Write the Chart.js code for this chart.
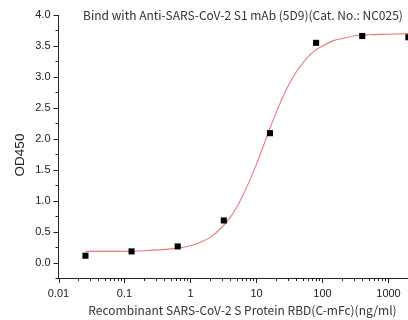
<!DOCTYPE html>
<html>
<head>
<meta charset="utf-8">
<script src="https://cdn.jsdelivr.net/npm/chart.js@4/dist/chart.umd.min.js"></script>
<style>
  html, body { margin: 0; padding: 0; background: #fff; }
  #wrap { width: 408px; height: 320px; position: relative; }
</style>
</head>
<body>
<div id="wrap"><canvas id="c" width="408" height="320"></canvas></div>
<script>
// ---- Data ----
const chartTitle = 'Bind with Anti-SARS-CoV-2 S1 mAb (5D9)(Cat. No.: NC025)';
const xAxisTitle = 'Recombinant SARS-CoV-2 S Protein RBD(C-mFc)(ng/ml)';
const yAxisTitle = 'OD450';

// measured points (concentration ng/ml, OD450)
const concentrations = [0.0256, 0.128, 0.64, 3.2, 16, 80, 400, 2000];
const od450 = [0.11, 0.18, 0.26, 0.68, 2.09, 3.55, 3.66, 3.64];

// fitted curve
const curveX = [0.0256, 0.05, 0.1, 0.2, 0.5, 1, 1.5, 2, 3, 4, 5, 6, 8, 10, 12, 15, 20, 25, 30, 40, 50, 60, 80, 100, 150, 200, 300, 500, 1000, 2000];
const curveY = [0.18, 0.18, 0.18, 0.19, 0.22, 0.27, 0.34, 0.41, 0.57, 0.73, 0.89, 1.05, 1.34, 1.59, 1.81, 2.09, 2.43, 2.67, 2.85, 3.08, 3.22, 3.32, 3.44, 3.50, 3.59, 3.62, 3.66, 3.68, 3.69, 3.70];

// axis ticks
const xMajorTicks = [0.01, 0.1, 1, 10, 100, 1000];
const yMajorTicks = [0.0, 0.5, 1.0, 1.5, 2.0, 2.5, 3.0, 3.5, 4.0];
const yMinorStep = 0.25;

const pointData = concentrations.map((x, i) => ({ x: x, y: od450[i] }));
const curveData = curveX.map((x, i) => ({ x: x, y: curveY[i] }));

function xAllTicks(min, max) {
  const out = [];
  for (let e = -2; e <= 4; e++) {
    for (let m = 1; m <= 9; m++) {
      const v = m * Math.pow(10, e);
      if (v >= min * 0.999 && v <= max * 1.001) out.push(v);
    }
  }
  return out;
}
function isXMajor(v) {
  return xMajorTicks.some(t => Math.abs(v / t - 1) < 1e-6);
}
function isYMajor(v) {
  return yMajorTicks.some(t => Math.abs(v - t) < 1e-6);
}

const axisColor = '#222';
const textColor = '#333';

const decorPlugin = {
  id: 'decor',
  afterDraw(chart) {
    const ctx = chart.ctx;
    const xs = chart.scales.x, ys = chart.scales.y;
    const area = chart.chartArea;
    ctx.save();
    ctx.strokeStyle = axisColor;
    ctx.lineWidth = 1;
    // x tick marks (outward, below axis)
    xs.ticks.forEach(t => {
      const px = Math.round(xs.getPixelForValue(t.value)) + 0.5;
      if (px > area.right + 1) return;
      const len = isXMajor(t.value) ? 5 : 3;
      ctx.beginPath();
      ctx.moveTo(px, area.bottom);
      ctx.lineTo(px, area.bottom + len);
      ctx.stroke();
    });
    // y tick marks (outward, left of axis)
    ys.ticks.forEach(t => {
      const py = Math.round(ys.getPixelForValue(t.value)) + 0.5;
      const len = isYMajor(t.value) ? 5 : 3;
      ctx.beginPath();
      ctx.moveTo(area.left, py);
      ctx.lineTo(area.left - len, py);
      ctx.stroke();
    });
    // titles
    ctx.fillStyle = textColor;
    ctx.font = '12px "Noto Sans CJK SC", "Noto Sans", sans-serif';
    ctx.textAlign = 'center';
    ctx.textBaseline = 'middle';
    ctx.fillText(chartTitle, 243, 15);
    ctx.fillText(xAxisTitle, 242.5, 310.5);
    ctx.translate(20, 155);
    ctx.rotate(-Math.PI / 2);
    ctx.font = '13.5px "Liberation Sans", Arial, sans-serif';
    ctx.fillStyle = '#222';
    ctx.fillText(yAxisTitle, 0, 0);
    ctx.restore();
  }
};

new Chart(document.getElementById('c'), {
  type: 'scatter',
  data: {
    datasets: [
      {
        label: 'fit',
        data: curveData,
        showLine: true,
        borderColor: 'rgb(236,120,120)',
        borderWidth: 1.1,
        pointRadius: 0,
        pointHoverRadius: 0,
        tension: 0.4,
        cubicInterpolationMode: 'monotone',
        fill: false,
        order: 2
      },
      {
        label: 'data',
        data: pointData,
        showLine: false,
        pointStyle: 'rect',
        pointRadius: 4.3,
        pointBackgroundColor: '#000',
        pointBorderColor: '#000',
        pointBorderWidth: 0,
        clip: false,
        order: 1
      }
    ]
  },
  options: {
    responsive: false,
    animation: false,
    devicePixelRatio: 1,
    layout: { autoPadding: false, padding: { top: 15, right: 0, left: 0, bottom: 0 } },
    plugins: {
      legend: { display: false },
      title: { display: false },
      tooltip: { enabled: false }
    },
    scales: {
      x: {
        type: 'logarithmic',
        min: 0.01,
        max: 1975,
        afterBuildTicks(scale) {
          scale.ticks = xAllTicks(scale.min, scale.max).map(v => ({ value: v }));
        },
        afterFit(scale) {
          scale.height = 42;
          scale.paddingLeft = 0;
          scale.paddingRight = 0;
        },
        grid: { display: false, drawTicks: true, tickLength: 5 },
        border: { display: true, color: axisColor, width: 1 },
        ticks: {
          autoSkip: false,
          maxRotation: 0,
          padding: 4,
          color: '#222',
          font: { family: '"Liberation Sans", Arial, sans-serif', size: 11 },
          callback(v) {
            if (!isXMajor(v)) return '';
            return String(xMajorTicks.find(t => Math.abs(v / t - 1) < 1e-6));
          }
        }
      },
      y: {
        type: 'linear',
        min: -0.25,
        max: 4.0,
        afterBuildTicks(scale) {
          const arr = [];
          for (let v = -0.25; v <= 4.0001; v += yMinorStep) arr.push({ value: Math.round(v * 100) / 100 });
          scale.ticks = arr;
        },
        afterFit(scale) {
          scale.width = 58.5;
          scale.paddingTop = 0;
          scale.paddingBottom = 0;
        },
        grid: { display: false, drawTicks: true, tickLength: 5 },
        border: { display: true, color: axisColor, width: 1 },
        ticks: {
          autoSkip: false,
          padding: 3,
          color: '#222',
          font: { family: '"Liberation Sans", Arial, sans-serif', size: 11 },
          callback(v) {
            if (!isYMajor(v)) return '';
            return v.toFixed(1);
          }
        }
      }
    }
  },
  plugins: [decorPlugin]
});
</script>
</body>
</html>
